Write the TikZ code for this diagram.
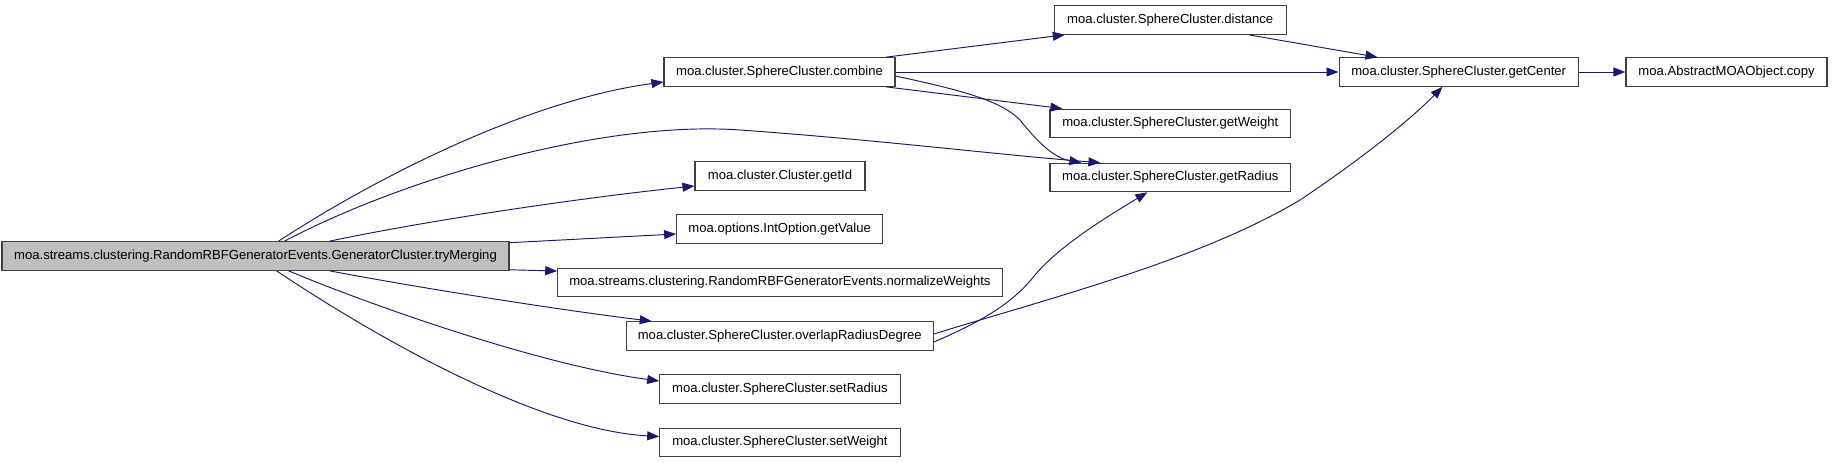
\documentclass[tikz,border=0pt]{standalone}
\usepackage{fontspec}
\setmainfont{Liberation Sans}
\usetikzlibrary{arrows.meta}
\definecolor{edgeblue}{HTML}{191970}
\definecolor{boxline}{HTML}{404040}
\definecolor{mainfill}{HTML}{BFBFBF}
\tikzset{
  fn/.style={draw=boxline, line width=1.1pt, fill=white, inner sep=0pt, minimum height=28.5pt,
    font=\fontsize{13.1}{15}\selectfont, anchor=center},
  mainnode/.style={fn, fill=mainfill},
  edge/.style={draw=edgeblue, line width=0.95pt, -{Triangle[length=12pt,width=9pt]}, fill=none}
}
\begin{document}
\begin{tikzpicture}[x=1pt,y=-1pt]
\useasboundingbox (0,0) rectangle (1832,463);
% nodes
\node[mainnode, minimum width=507pt] (main) at (255.5,256) {moa.streams.clustering.RandomRBFGeneratorEvents.GeneratorCluster.tryMerging};
\node[fn, minimum width=231pt] (combine) at (779.5,72) {moa.cluster.SphereCluster.combine};
\node[fn, minimum width=170pt] (getId) at (780,176) {moa.cluster.Cluster.getId};
\node[fn, minimum width=206pt] (getValue) at (779.7,229) {moa.options.IntOption.getValue};
\node[fn, minimum width=444.3pt] (normalize) at (779.9,282.5) {moa.streams.clustering.RandomRBFGeneratorEvents.normalizeWeights};
\node[fn, minimum width=307pt] (overlap) at (779.8,336) {moa.cluster.SphereCluster.overlapRadiusDegree};
\node[fn, minimum width=240.3pt] (setRadius) at (779.9,389) {moa.cluster.SphereCluster.setRadius};
\node[fn, minimum width=240.3pt] (setWeight) at (779.9,442.5) {moa.cluster.SphereCluster.setWeight};
\node[fn, minimum width=231.7pt] (distance) at (1170.2,20) {moa.cluster.SphereCluster.distance};
\node[fn, minimum width=240.7pt] (getWeight) at (1170.3,123.4) {moa.cluster.SphereCluster.getWeight};
\node[fn, minimum width=240.7pt] (getRadius) at (1170.3,177.5) {moa.cluster.SphereCluster.getRadius};
\node[fn, minimum width=239.3pt] (getCenter) at (1458.7,72) {moa.cluster.SphereCluster.getCenter};
\node[fn, minimum width=201pt] (copy) at (1726.5,72) {moa.AbstractMOAObject.copy};
% edges from main
\draw[edge] ([xshift=277pt]main.north west) .. controls (380,175) and (530,100) .. ([yshift=-10pt]combine.west);
\draw[edge] ([xshift=283pt]main.north west) .. controls (400,180) and (600,120) .. (740,130)
   .. controls (880,140) and (1000,155) .. ([xshift=51pt]getRadius.north west);
\draw[edge] ([xshift=328pt]main.north west) .. controls (430,220) and (580,198) .. ([yshift=-10pt]getId.west);
\draw[edge] ([yshift=-1.5pt]main.north east) -- ([yshift=-5pt]getValue.west);
\draw[edge] ([yshift=1pt]main.south east) -- ([yshift=11.5pt]normalize.west);
\draw[edge] ([xshift=328pt]main.south west) .. controls (420,288) and (560,310) .. ([xshift=26pt]overlap.north west);
\draw[edge] ([xshift=287pt]main.south west) .. controls (370,305) and (540,365) .. ([yshift=8pt]setRadius.west);
\draw[edge] ([xshift=275pt]main.south west) .. controls (380,340) and (540,430) .. ([yshift=6pt]setWeight.west);
% edges from combine
\draw[edge] ([xshift=-10pt]combine.north east) -- ([xshift=11pt]distance.south west);
\draw[edge] (combine.east) -- (getCenter.west);
\draw[edge] ([xshift=-10pt]combine.south east) -- ([xshift=13pt]getWeight.north west);
\draw[edge] ([yshift=-4pt]combine.east) .. controls (960,90) and (1000,100) .. (1020,120)
   .. controls (1040,145) and (1055,158) .. ([xshift=32pt]getRadius.north west);
% other edges
\draw[edge] ([xshift=-38pt]distance.south east) -- ([xshift=39pt]getCenter.north west);
\draw[edge] (getCenter.east) -- (copy.west);
\draw[edge] ([yshift=-6pt]overlap.east) .. controls (990,318) and (1015,300) .. (1035,275)
   .. controls (1060,245) and (1110,215) .. ([xshift=98pt]getRadius.south west);
\draw[edge] ([yshift=2pt]overlap.east) .. controls (1050,298) and (1200,260) .. (1300,200)
   .. controls (1360,160) and (1410,120) .. ([xshift=104pt]getCenter.south west);
\end{tikzpicture}
\end{document}
